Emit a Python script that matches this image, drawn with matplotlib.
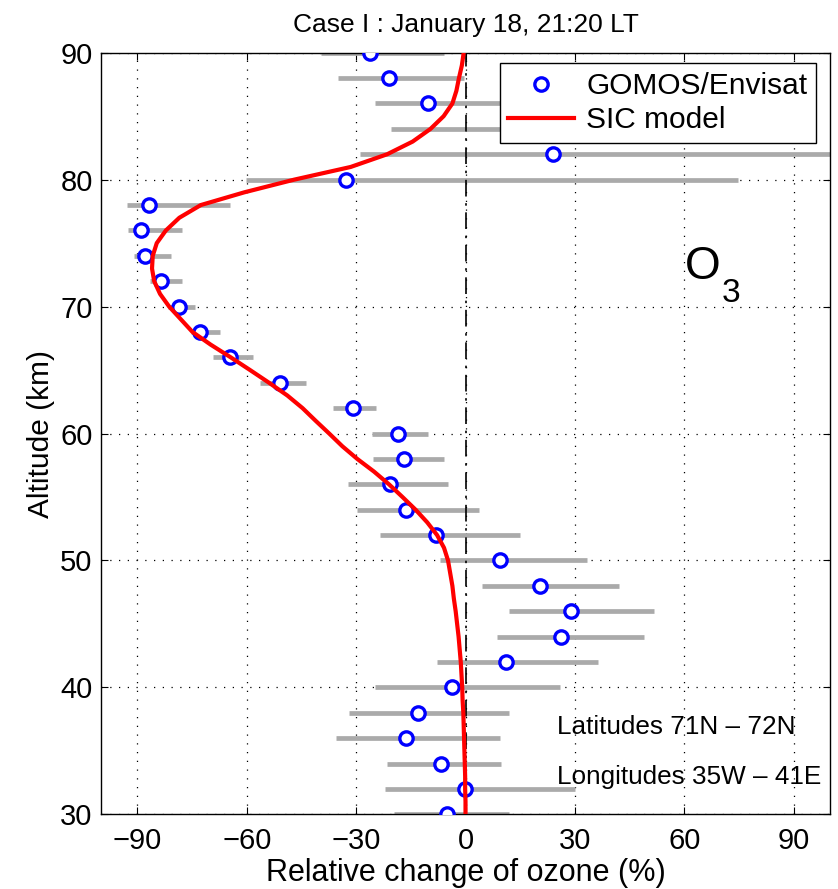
import numpy as np
import matplotlib
matplotlib.use('Agg')
import matplotlib.pyplot as plt
from matplotlib.lines import Line2D

plt.rcParams['font.family'] = ['Liberation Sans', 'DejaVu Sans']

# GOMOS/Envisat observations (every 2 km, 30..90 km)
alt_obs = [30, 32, 34, 36, 38, 40, 42, 44, 46, 48, 50, 52, 54, 56, 58, 60,
           62, 64, 66, 68, 70, 72, 74, 76, 78, 80, 82, 84, 86, 88, 90]
obs = [-5.0, -0.2, -6.7, -16.2, -13.0, -3.7, 11.2, 26.2, 28.9, 20.4, 9.4,
       -8.0, -16.3, -20.8, -16.8, -18.6, -31.0, -51.0, -64.7, -72.8, -78.5,
       -83.4, -87.8, -88.9, -86.9, -32.7, 24.0, 14.0, -10.3, -21.0, -26.3]
err_lo = [-19.5, -22.2, -21.5, -35.6, -32.0, -24.7, -7.7, 8.7, 11.9, 4.4, -7.0,
          -23.4, -29.8, -32.1, -25.5, -25.6, -36.4, -56.4, -69.2, -75.3, -81.5,
          -86.5, -90.9, -92.7, -92.9, -60.3, -29.0, -20.5, -24.9, -35.0, -39.7]
err_hi = [11.9, 30.1, 9.7, 9.4, 11.9, 25.8, 36.3, 49.0, 51.6, 42.2, 33.2,
          14.9, 3.6, -4.8, -5.9, -10.4, -24.6, -43.7, -58.4, -67.3, -74.2,
          -77.9, -80.8, -77.9, -64.6, 74.7, 110.0, 45.0, 14.0, -0.5, -5.8]

# SIC model profile (1 km steps, 30..90 km)
alt_model = list(range(30, 91))
model = [0.0, 0.0, -0.1, -0.1, -0.2, -0.3, -0.4, -0.5, -0.6, -0.8,
         -0.9, -1.1, -1.3, -1.6, -1.9, -2.3, -2.7, -3.2, -3.6, -4.2,
         -4.8, -5.9, -7.8, -10.5, -13.7, -17.3, -21.0, -25.1, -29.7, -33.8,
         -37.4, -41.1, -44.7, -48.9, -53.9, -59.1, -64.4, -69.9, -74.9, -78.1,
         -81.3, -83.8, -85.4, -86.0, -85.8, -84.7, -82.2, -78.5, -72.6, -60.7,
         -47.0, -31.5, -21.5, -14.5, -9.6, -6.0, -3.6, -2.5, -1.8, -1.0,
         -0.5]

fig = plt.figure(figsize=(8.38, 8.89), dpi=100)
ax = fig.add_axes([0.1205, 0.084, 0.870, 0.8567])

ax.hlines(alt_obs, err_lo, err_hi, color='#aaaaaa', lw=3.4, zorder=2)
ax.axvline(0, color='k', lw=1.2, ls=(0, (10, 4, 1.5, 4)), zorder=3)
ax.plot(obs, alt_obs, 'o', ms=9.6, mew=2.4, mec='#0000ff', mfc='white',
        ls='none', zorder=4)
ax.plot(model, alt_model, color='#ff0000', lw=3, zorder=5)

ax.set_xlim(-100, 100)
ax.set_ylim(30, 90)
ax.set_xticks([-90, -60, -30, 0, 30, 60, 90])
ax.set_xticklabels(['\u221290', '\u221260', '\u221230', '0', '30', '60', '90'])
ax.set_yticks([30, 40, 50, 60, 70, 80, 90])
ax.grid(True, ls=(0, (1, 6)), color='k', lw=0.9)
ax.set_axisbelow(True)
ax.tick_params(direction='in', length=5, width=0.8, labelsize=21,
               top=True, right=True)
ax.tick_params(axis='x', pad=9)
ax.tick_params(axis='y', pad=6)
for s in ax.spines.values():
    s.set_linewidth(1.0)

ax.set_xlabel('Relative change of ozone (%)', fontsize=22, labelpad=2)
ax.set_ylabel('Altitude (km)', fontsize=21.5, labelpad=4)
ax.set_title('Case I : January 18, 21:20 LT', fontsize=19, pad=15)

handles = [Line2D([], [], marker='o', ls='none', ms=9.6, mew=2.4,
                  mec='#0000ff', mfc='white'),
           Line2D([], [], color='#ff0000', lw=3)]
leg = ax.legend(handles, ['GOMOS/Envisat', 'SIC model'], loc='upper right',
                bbox_to_anchor=(0.981, 0.986), borderaxespad=0, fontsize=21.5,
                fancybox=False, framealpha=1, edgecolor='k',
                handlelength=2.2, handletextpad=0.4, labelspacing=0.2,
                borderpad=0.3)
leg.get_frame().set_linewidth(1.0)
leg.set_zorder(10)

ax.text(60.3, 72.2, 'O', fontsize=33, ha='left', va='baseline')
ax.text(70.3, 70.4, '3', fontsize=24, ha='left', va='baseline')
ax.text(25.1, 36.9, 'Latitudes 71N \u2013 72N', fontsize=18.8, va='center')
ax.text(25.1, 32.95, 'Longitudes 35W \u2013 41E', fontsize=18.8, va='center')

fig.savefig('out.png', dpi=100)
